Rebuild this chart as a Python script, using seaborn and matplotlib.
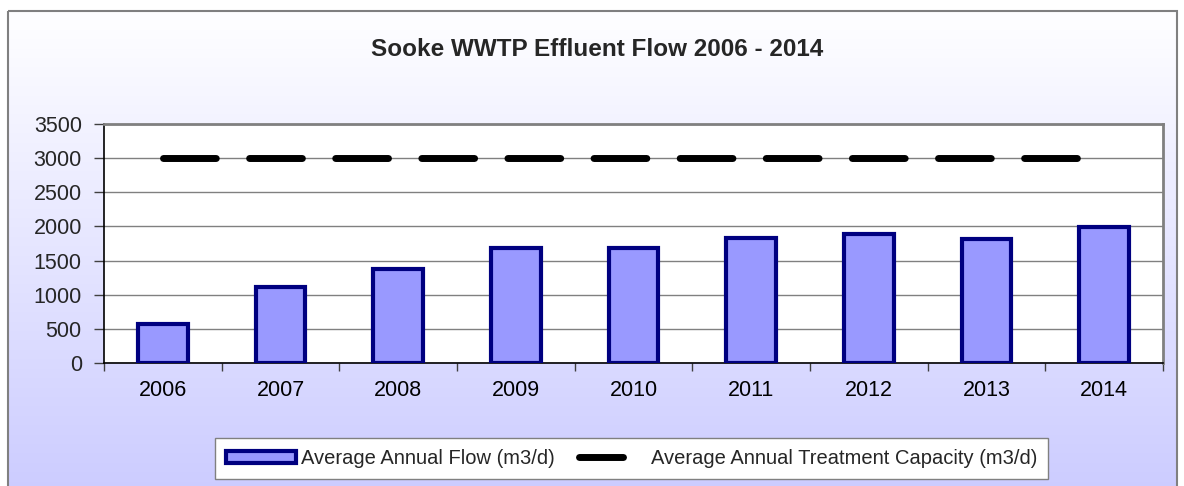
import matplotlib
matplotlib.use("Agg")
import matplotlib.pyplot as plt
from matplotlib.patches import Patch, Rectangle
from matplotlib.lines import Line2D
from matplotlib.legend_handler import HandlerLine2D
import numpy as np
import pandas as pd
import seaborn as sns

# data
years = ["2006", "2007", "2008", "2009", "2010", "2011", "2012", "2013", "2014"]
avg_flow = [570, 1120, 1380, 1680, 1690, 1835, 1890, 1810, 1990]
capacity = [3000, 3000, 3000, 3000, 3000, 3000, 3000, 3000, 3000]
y_ticks = [0, 500, 1000, 1500, 2000, 2500, 3000, 3500]

title = "Sooke WWTP Effluent Flow 2006 - 2014"
flow_label = "Average Annual Flow (m3/d)"
cap_label = "Average Annual Treatment Capacity (m3/d)"


class ShortLineHandler(HandlerLine2D):
    # legend line drawn shorter than the handle box, like the excel legend
    def create_artists(self, legend, orig_handle, xdescent, ydescent,
                       width, height, fontsize, trans):
        y = (height - ydescent) / 2
        x0 = -xdescent + 0.05 * width
        x1 = -xdescent + 0.68 * width
        line = Line2D([x0, x1], [y, y])
        self.update_prop(line, orig_handle, legend)
        line.set_transform(trans)
        return [line]


sns.set_theme(style="white")
plt.rcParams["font.family"] = ["Liberation Sans", "DejaVu Sans"]

W, H = 1184, 486
fig = plt.figure(figsize=(W / 100, H / 100), dpi=100)
fig.patch.set_facecolor("white")

# gradient background with grey frame
bg = fig.add_axes([0, 0, 1, 1], zorder=-5)
bg.set_xlim(0, W)
bg.set_ylim(H, 0)
bg.axis("off")
grad = np.linspace(0, 1, 256).reshape(-1, 1)
top_c = np.array([1.0, 1.0, 1.0])
bot_c = np.array([0.80, 0.80, 1.0])
img = top_c + grad[..., None] * (bot_c - top_c)
bg.imshow(img, extent=(8, 1177, 492, 11), aspect="auto", interpolation="bilinear")
bg.add_patch(Rectangle((8, 11), 1169, 481, fill=False, edgecolor="#808080", lw=1.5))

ax = fig.add_axes([104 / W, 1 - 363 / H, (1163 - 104) / W, (363 - 124) / H])
ax.set_facecolor("white")

df = pd.DataFrame({"year": years, "flow": avg_flow})
sns.barplot(data=df, x="year", y="flow", order=years, color="#9999FF",
            saturation=1, edgecolor="#000080", linewidth=3, width=0.42, ax=ax, zorder=3)

ax.plot(np.arange(len(years)), capacity, color="black", lw=5,
        dashes=(7.6, 4.8), dash_capstyle="round", zorder=4)

ax.set_xlim(-0.5, len(years) - 0.5)
ax.set_ylim(0, 3500)
ax.set_yticks(y_ticks)
ax.set_yticklabels([str(v) for v in y_ticks])
ax.set_xlabel("")
ax.set_ylabel("")
ax.yaxis.grid(True, color="#808080", lw=1)
ax.set_axisbelow(True)

ax.set_xticks(np.arange(-0.5, len(years), 1.0), minor=True)
ax.tick_params(axis="x", which="major", length=0, pad=12, labelsize=15.5, colors="black")
ax.tick_params(axis="x", which="minor", length=6, width=1, color="#404040", bottom=True)
ax.tick_params(axis="y", length=7, width=1, color="#404040", pad=9, labelsize=15.5, left=True)

for side in ["left", "bottom"]:
    ax.spines[side].set_color("black")
    ax.spines[side].set_linewidth(1.2)
for side in ["top", "right"]:
    ax.spines[side].set_color("#808080")
    ax.spines[side].set_linewidth(2)

fig.text(597 / W, 1 - 50 / H, title, ha="center", va="center",
         fontsize=17.5, fontweight="bold")

cap_handle = Line2D([], [], color="black", lw=5, solid_capstyle="round")
handles = [Patch(facecolor="#9999FF", edgecolor="#000080", lw=3), cap_handle]
leg = fig.legend(handles, [flow_label, cap_label], loc="center",
                 bbox_to_anchor=(631.5 / W, 1 - 458.5 / H), ncol=2,
                 fontsize=14.5, frameon=True, fancybox=False, framealpha=1,
                 edgecolor="#808080", handlelength=3.5, handleheight=0.55,
                 handletextpad=0.25, columnspacing=1.0, borderpad=0.55,
                 handler_map={cap_handle: ShortLineHandler()})
leg.get_frame().set_linewidth(1)

fig.savefig("out.png", dpi=100)
